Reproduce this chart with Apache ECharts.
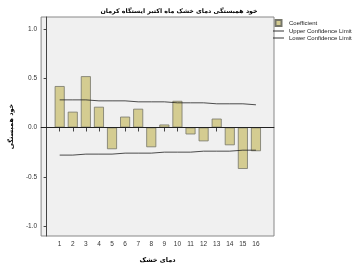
<!DOCTYPE html>
<html>
<head>
<meta charset="utf-8">
<script src="https://cdn.jsdelivr.net/npm/echarts@6/dist/echarts.min.js"></script>
<style>
  html, body { margin: 0; padding: 0; background: #fff; }
  #chart { width: 358px; height: 269px; }
</style>
</head>
<body>
<div id="chart"></div>
<script>
const lags = [1, 2, 3, 4, 5, 6, 7, 8, 9, 10, 11, 12, 13, 14, 15, 16];
const coefficient = [0.42, 0.16, 0.52, 0.21, -0.22, 0.11, 0.19, -0.20, 0.03, 0.27, -0.07, -0.14, 0.09, -0.18, -0.42, -0.24];
const upperLimit = [0.28, 0.28, 0.28, 0.27, 0.27, 0.27, 0.26, 0.26, 0.26, 0.25, 0.25, 0.25, 0.24, 0.24, 0.24, 0.23];
const lowerLimit = [-0.28, -0.28, -0.27, -0.27, -0.27, -0.26, -0.26, -0.26, -0.25, -0.25, -0.25, -0.24, -0.24, -0.24, -0.23, -0.23];
const yTicks = [-1, -0.5, 0, 0.5, 1];

const chartDom = document.getElementById('chart');
const myChart = echarts.init(chartDom);

const pairs = (vals) => lags.map((l, i) => [l, vals[i]]);
const lineIcon = 'path://M0,0h12v1h-12z';

const option = {
    animation: false,
    backgroundColor: '#fff',
    textStyle: { fontFamily: 'Liberation Sans, Arial, sans-serif' },
    title: {
        text: 'خود همبستگی دمای خشک ماه اکتبر ایستگاه کرمان',
        left: 'center',
        top: 8,
        padding: 0,
        textStyle: { fontFamily: 'DejaVu Sans', fontSize: 6.3, fontWeight: 'bold', color: '#000' },
    },
    legend: {
        orient: 'vertical',
        left: 273,
        top: 19,
        padding: 0,
        itemWidth: 11,
        itemHeight: 6,
        itemGap: 1,
        textStyle: { fontSize: 6, color: '#222' },
        data: [
            { name: 'Coefficient', icon: 'path://M0,0h6v6h-6z' },
            { name: 'Upper Confidence Limit', icon: lineIcon },
            { name: 'Lower Confidence Limit', icon: lineIcon },
        ],
    },
    grid: {
        left: 36,
        right: 84,
        top: 17,
        bottom: 27,
        show: true,
        backgroundColor: '#f0f0f0',
        borderColor: '#888',
        borderWidth: 1,
    },
    xAxis: {
        type: 'value',
        min: -0.42,
        max: 17.38,
        name: 'دمای خشک',
        nameLocation: 'middle',
        nameGap: 21,
        nameTextStyle: { fontFamily: 'DejaVu Sans', fontSize: 6.5, fontWeight: 'bold', color: '#000' },
        axisLine: { show: true, lineStyle: { color: '#444' } },
        axisTick: { show: true, length: 4, customValues: lags, lineStyle: { color: '#444' } },
        axisLabel: { customValues: lags, fontSize: 6.5, color: '#333', margin: 5 },
        splitLine: { show: false },
    },
    yAxis: {
        type: 'value',
        min: -1.1,
        max: 1.12,
        name: 'خود همبستگی',
        nameLocation: 'middle',
        nameGap: 21,
        nameTextStyle: { fontFamily: 'DejaVu Sans', fontSize: 6.5, fontWeight: 'bold', color: '#000' },
        axisLine: { show: true, lineStyle: { color: '#444' } },
        axisTick: { show: true, length: 3, customValues: yTicks, lineStyle: { color: '#444' } },
        axisLabel: {
            customValues: yTicks,
            fontSize: 6.5,
            color: '#333',
            margin: 4,
            formatter: (v) => v.toFixed(1),
        },
        splitLine: { show: false },
    },
    series: [
        {
            name: 'Coefficient',
            type: 'bar',
            barWidth: 10,
            data: pairs(coefficient),
            itemStyle: { color: '#d4cc91', borderColor: '#76766a', borderWidth: 0.8 },
            markLine: {
                silent: true,
                symbol: 'none',
                label: { show: false },
                lineStyle: { color: '#222', type: 'solid', width: 1 },
                data: [{ yAxis: 0 }],
            },
        },
        {
            name: 'Upper Confidence Limit',
            type: 'line',
            symbol: 'none',
            data: pairs(upperLimit),
            lineStyle: { color: '#222', width: 0.8 },
            itemStyle: { color: '#222' },
        },
        {
            name: 'Lower Confidence Limit',
            type: 'line',
            symbol: 'none',
            data: pairs(lowerLimit),
            lineStyle: { color: '#222', width: 0.8 },
            itemStyle: { color: '#222' },
        },
    ],
};
myChart.setOption(option);
</script>
</body>
</html>
